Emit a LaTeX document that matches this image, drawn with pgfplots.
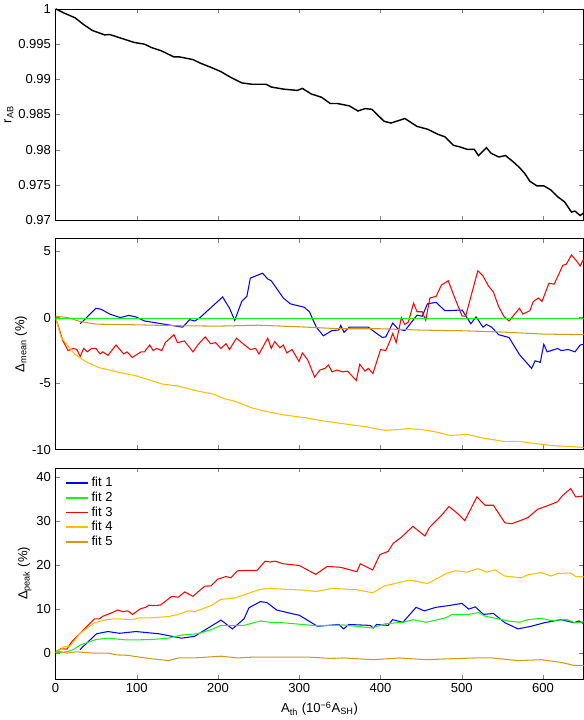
\documentclass[border=0pt]{standalone}
\usepackage{fontspec}
\setmainfont{Liberation Sans}
\usepackage{pgfplots}
\pgfplotsset{compat=1.18}
\definecolor{cB}{rgb}{0,0,1}
\definecolor{cG}{rgb}{0.1,0.95,0.1}
\definecolor{cR}{rgb}{1,0,0}
\definecolor{cO}{rgb}{1,0.75,0}
\definecolor{cY}{rgb}{0.82,0.6,0.1}
\pgfplotsset{
  every axis/.append style={
    width=405pt, height=162pt, scale only axis,
    xmin=0, xmax=650, xtick={0,100,...,600},
    tick pos=both, tick align=inside, major tick length=3.5pt,
    /pgf/number format/assume math mode=true,
    tick label style={font=\normalsize}, label style={font=\normalsize},
    ylabel style={yshift=-3pt},
  },
}
\begin{document}
\begin{tikzpicture}
% ---------- top ----------
\begin{axis}[at={(0,0)}, anchor=north west, name=top,
  ymin=0.97, ymax=1, ytick={0.97,0.975,...,1.001},
  yticklabels={0.97,0.975,0.98,0.985,0.99,0.995,1},
  xticklabels={}, ylabel={r\textsubscript{AB}}]
\addplot[black, line width=1.1pt, mark=none] coordinates {
(0,1.0)(11.1,0.99937)(23.9,0.99873)(34.6,0.99776)(45.3,0.99693)(60.3,0.99630)(66.7,0.99635)(83.8,0.99571)(96.6,0.99523)(109.4,0.99498)(118,0.9945)(130.8,0.99401)(145.3,0.99318)(152.1,0.99318)(169.2,0.99279)(177.8,0.9923)(190.6,0.99172)(203.4,0.99109)(214.1,0.99036)(229.1,0.98948)(241.9,0.98929)(259,0.98929)(265.4,0.9889)(280.3,0.9886)(297.4,0.98841)(303.8,0.9887)(314.5,0.98792)(327.4,0.98744)(338,0.98656)(346.6,0.98656)(361.5,0.98622)(372.2,0.98549)(380.8,0.98583)(389.3,0.98573)(397.9,0.98476)(404.3,0.98403)(412.8,0.98378)(429.9,0.98442)(444.9,0.9833)(457.7,0.98291)(470.5,0.98218)(479.1,0.98183)(489.7,0.98062)(498.3,0.98037)(506.8,0.98003)(515.4,0.98003)(520.5,0.97916)(530.3,0.98028)(535.9,0.9795)(545.3,0.97896)(553.8,0.97916)(563.2,0.97828)(571,0.97746)(577.4,0.97662)(583.8,0.97551)(592.3,0.97487)(600.9,0.97487)(609.4,0.97429)(617.9,0.97332)(626.5,0.97258)(635,0.97114)(639.3,0.97128)(645.7,0.97064)(650,0.97104)};
\end{axis}
% ---------- middle ----------
\begin{axis}[at={(0,-176pt)}, anchor=north west, name=mid,
  ymin=-10, ymax=6, ytick={-10,-5,0,5},
  xticklabels={}, ylabel={Δ\textsubscript{mean} (\%)}]
\addplot[cB, line width=0.8pt, mark=none] coordinates {
(30.3,-0.47)(49.6,0.70)(56.0,0.63)(66.7,0.26)(79.5,0)(90.2,0.16)(98.7,0.05)(109.4,-0.26)(156.4,-0.73)(165.0,-0.16)(171.4,-0.26)(177.8,0)(205.6,1.56)(214.1,0.70)(220.5,-0.21)(229.1,1.22)(235.5,1.61)(239.7,2.99)(254.7,3.36)(261.1,2.92)(265.4,2.79)(280.3,1.48)(288.9,1.04)(306.0,0.78)(312.4,0.44)(320.9,-0.73)(329.5,-1.38)(340.2,-0.99)(348.7,-0.94)(350.9,-0.60)(355.1,-1.12)(361.5,-0.73)(385.0,-0.73)(391.5,-1.04)(402.1,-1.51)(406.4,-1.46)(415.0,-0.42)(421.4,-0.86)(429.9,-0.99)(444.9,0.18)(451.3,0.10)(457.7,1.04)(468.4,1.15)(479.1,0.52)(500.4,0.57)(511.1,-0.47)(517.5,0.05)(526.1,-0.73)(530.3,-0.52)(536.8,-0.73)(545.3,-1.30)(558.1,-1.51)(571.0,-2.81)(585.9,-3.85)(590.2,-3.28)(596.6,-3.39)(600.9,-2.03)(605.1,-2.60)(617.9,-2.34)(622.2,-2.50)(630.8,-2.42)(639.3,-2.60)(645.7,-2.08)(650,-2.03)};
\addplot[cR, line width=0.8pt, mark=none] coordinates {
(0,0)(9.0,-1.77)(15.4,-2.50)(21.8,-2.34)(26.1,-2.42)(30.3,-2.94)(34.6,-2.34)(38.9,-2.60)(44.4,-2.34)(49.6,-2.34)(54.7,-2.76)(58.1,-2.60)(64.5,-2.86)(74.4,-2.08)(83.8,-2.76)(88.0,-2.60)(94.4,-3.02)(105.1,-2.60)(109.4,-2.60)(115.8,-2.08)(120.1,-2.50)(124.4,-2.34)(130.8,-2.50)(135.0,-1.90)(145.7,-1.30)(150.0,-1.90)(158.5,-1.77)(169.2,-2.60)(175.6,-2.03)(184.2,-1.46)(190.6,-1.98)(197.0,-1.90)(203.4,-2.34)(209.8,-1.98)(214.1,-2.42)(222.6,-1.56)(229.1,-1.90)(239.7,-2.42)(246.2,-2.34)(250.4,-2.76)(261.1,-1.56)(265.4,-2.34)(269.7,-1.82)(276.1,-2.29)(280.3,-2.08)(284.6,-2.68)(291.0,-2.42)(299.6,-3.33)(303.8,-2.68)(310.3,-3.20)(318.8,-4.51)(325.2,-3.98)(331.6,-3.85)(335.9,-3.59)(340.2,-4.11)(346.6,-3.98)(353.0,-4.11)(359.4,-4.06)(370.1,-4.77)(374.4,-3.54)(380.8,-4.06)(385.0,-3.85)(390.6,-4.24)(400.0,-2.42)(406.4,-2.50)(410.7,-1.90)(415.0,-1.20)(419.2,-1.90)(425.6,0)(429.9,-0.52)(434.2,-0.34)(440.6,1.09)(444.9,0.44)(451.3,0.44)(455.6,-0.21)(460.7,1.48)(468.4,1.61)(474.8,2.45)(483.3,2.79)(489.7,1.74)(500.4,0.10)(504.7,0.10)(519.7,3.54)(526.1,3.15)(532.5,2.42)(538.9,1.93)(545.3,0.83)(551.7,0.10)(558.1,-0.26)(571.0,0.70)(575.2,0.26)(583.8,0.52)(588.0,1.22)(594.4,1.48)(598.7,1.22)(607.3,2.60)(613.7,2.53)(624.4,3.96)(628.6,4.04)(635.0,4.74)(641.5,4.27)(645.7,3.91)(650,4.43)};
\addplot[cO, line width=0.8pt, mark=none] coordinates {
(0,0)(6.8,-1.5)(23.9,-2.8)(36.8,-3.33)(53.8,-3.8)(79.5,-4.17)(96.6,-4.38)(113.7,-4.69)(130.8,-5.03)(152.1,-5.21)(173.5,-5.55)(194.9,-5.81)(207.7,-6.15)(220.5,-6.33)(241.9,-6.85)(259,-7.11)(280.3,-7.37)(306,-7.58)(335.9,-7.89)(357.3,-8.07)(382.9,-8.28)(404.3,-8.54)(421.4,-8.49)(434.2,-8.41)(451.3,-8.49)(468.4,-8.67)(485.5,-8.93)(506.8,-8.85)(523.9,-9.11)(545.3,-9.32)(553.8,-9.40)(571,-9.38)(588,-9.53)(613.7,-9.71)(635,-9.77)(650,-9.84)};
\addplot[cY, line width=0.8pt, mark=none] coordinates {
(0,0.1)(15,0.0)(30,-0.3)(50,-0.5)(100,-0.55)(150,-0.62)(200,-0.65)(250,-0.58)(300,-0.7)(350,-0.85)(400,-0.85)(450,-0.95)(500,-1.0)(550,-1.1)(600,-1.25)(650,-1.3)};
\addplot[cG, line width=1pt, mark=none] coordinates {(0,-0.08)(650,-0.08)};
\end{axis}
% ---------- bottom ----------
\begin{axis}[at={(0,-352pt)}, anchor=north west, name=bot,
  ymin=-6, ymax=42, ytick={0,10,20,30,40},
  xlabel={A\textsubscript{th} (10\textsuperscript{−6}A\textsubscript{SH})},
  ylabel={Δ\textsubscript{peak} (\%)},
  legend style={at={(0.01,0.98)}, anchor=north west, draw=none, fill=none, font=\normalsize, row sep=-1.5pt},
  legend cell align=left]
\addlegendimage{draw=cB, line width=1.3pt}
\addlegendimage{draw=cG, line width=1.3pt}
\addlegendimage{draw=cR, line width=1.3pt}
\addlegendimage{draw=cO, line width=1.3pt}
\addlegendimage{draw=cY, line width=1.3pt}
\legend{fit 1,fit 2,fit 3,fit 4,fit 5}
\addplot[cB, line width=0.8pt, mark=none, forget plot] coordinates {
(30,0.7)(50.4,4.3)(64.5,4.8)(78.6,4.4)(98.8,4.8)(127,4.3)(155,3.3)(171,3.7)(203.6,7.4)(217.7,5.4)(232,7.7)(238,10.2)(252,11.6)(260,11.4)(272,9.7)(290,8.9)(300,8.5)(322.3,6)(348.6,6.4)(354.6,5.4)(360.7,6.4)(387,6.2)(391.1,5.6)(395.1,6.4)(409.3,6.2)(414.6,7.5)(427.5,6.9)(443.7,10.3)(453.8,9.5)(468,10.3)(484.2,10.7)(500,11.2)(508.5,9.9)(516.6,10.4)(526.7,8.7)(538.9,8.9)(553,6.8)(569.2,5.4)(585.4,6)(601.6,6.8)(621.9,7.5)(638.1,6.8)(644.1,7.2)(650,6.6)};
\addplot[cG, line width=0.8pt, mark=none, forget plot] coordinates {
(0,0)(14,0.2)(22,0.7)(30,1.7)(50,3.0)(64.5,3.3)(86.7,2.9)(98.8,2.9)(119,3.0)(139,3.3)(155,4.0)(175,4.3)(191,5.2)(203.6,6.2)(232,6.2)(252,7.2)(264,6.9)(273.7,6.9)(322.3,6.1)(354.6,6.3)(389.3,5.6)(406.3,6.6)(428,6.9)(439.7,7.5)(455.9,6.9)(480.2,7.9)(488.3,8.7)(508.5,8.7)(520.6,9.1)(528.7,8.3)(557,7.2)(571.3,6.9)(581.4,7.5)(597.6,7.8)(609.7,7.3)(629.1,7.5)(639.2,6.8)(650,7)};
\addplot[cR, line width=0.8pt, mark=none, forget plot] coordinates {
(0,0)(6,0.9)(14,0.8)(20,2.5)(30,4.4)(48,7.7)(54,7.7)(58.5,8.3)(68.5,9)(76.6,9.7)(82.7,9.3)(88.7,9.5)(94.8,8.7)(104.8,10)(111,10.3)(115,10.8)(119,10.7)(129,10.8)(143,12.8)(151,12.6)(159,13.8)(169,12.8)(183.5,15.1)(191.5,15.2)(199.6,16.7)(209.7,17.3)(215.7,17)(223.8,18.6)(238,18.7)(248,18.7)(258,20.8)(264,20.6)(270,20.8)(280,20.2)(300,19.8)(320.2,17.8)(334.4,19.6)(350.6,19.4)(370.9,18.4)(375,20.2)(390.3,18.8)(399.2,22.3)(409.3,23)(415.4,24.8)(425.5,26.2)(439.7,28.7)(454.7,26.5)(460,28.4)(474,31)(484.2,33.2)(494.3,31.7)(503.6,30)(518.6,35.4)(528.7,33.5)(538.9,33.5)(553,29.5)(561.1,29.3)(573.3,30.1)(581.4,30.7)(593.5,32.6)(605.7,33.4)(617.9,34.3)(624,35.7)(634,37.3)(640.1,35.4)(650,35.6)};
\addplot[cO, line width=0.8pt, mark=none, forget plot] coordinates {
(0,0)(10,1.3)(18,1.5)(30,4.4)(48,6.8)(62.5,7.5)(74.6,7.7)(94.8,7.5)(102.8,7.9)(115,7.9)(139,8.2)(151,8.7)(163,9.5)(171,9.3)(191.5,10.7)(203.6,12.1)(220,12.4)(236,13.4)(252,14.4)(264,14.6)(284,14.4)(306,14.2)(320.2,13.9)(340.5,14.6)(370.9,14.3)(390.3,13.6)(405.3,15.2)(417.4,15.7)(435.6,16.5)(457.9,15.7)(482.2,18.1)(492.3,18.6)(506.5,18.3)(519.8,19.1)(530.8,18.3)(540.9,18.8)(553,17.4)(573.3,17)(581.4,17.7)(597.6,18.2)(609.7,17.4)(617.9,18)(634,18.1)(640.1,17.3)(650,17.3)};
\addplot[cY, line width=0.8pt, mark=none, forget plot] coordinates {
(0,0.4)(14,-0.1)(26,0.2)(46,-0.1)(64.5,-0.1)(74.6,-0.5)(88.7,-0.6)(98.8,-0.9)(119,-1.4)(139,-1.8)(151,-1.2)(171,-1.2)(203.6,-0.8)(224,-1.2)(244,-1.0)(264,-1.0)(284,-1.0)(310,-1.0)(338,-1.3)(355,-1.2)(391,-1.6)(423,-1.2)(456,-1.6)(484,-1.4)(516.6,-1.2)(537,-1.2)(569,-1.8)(598,-1.6)(622,-2.2)(638,-2.9)(650,-2.9)};
\end{axis}
\end{tikzpicture}
\end{document}
